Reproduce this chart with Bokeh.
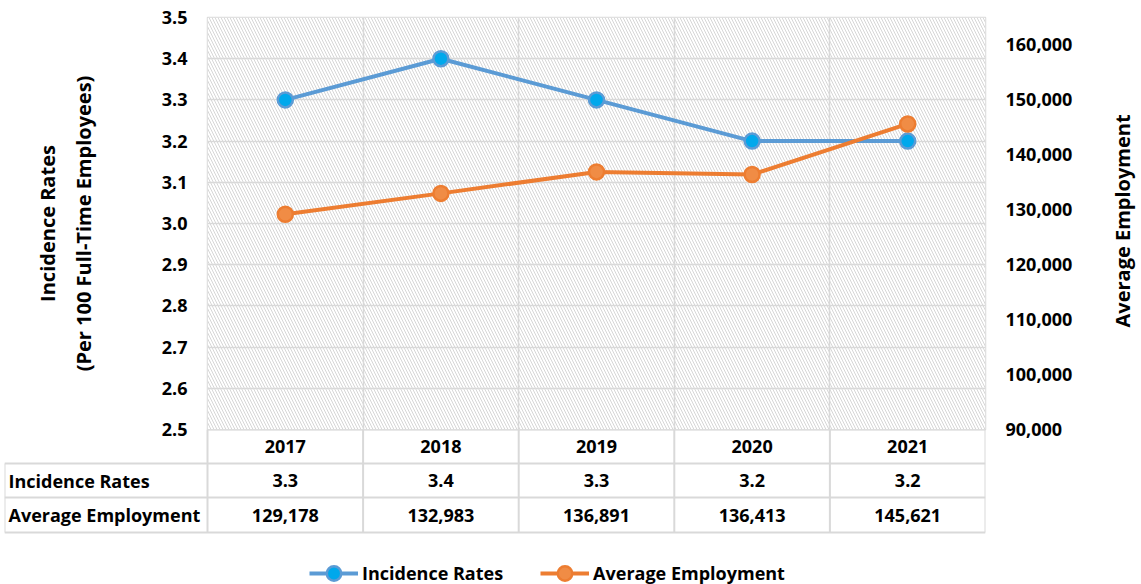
import math
from bokeh.plotting import figure
from bokeh.models import (Range1d, LinearAxis, FixedTicker, NumeralTickFormatter, Grid,
                          BoxAnnotation, ColumnDataSource, Legend, LegendItem, Title)
from bokeh.embed import file_html
from bokeh.resources import INLINE
from bokeh.core.properties import value

# ---------------- data ----------------
years = ["2017", "2018", "2019", "2020", "2021"]
incidence = [3.3, 3.4, 3.3, 3.2, 3.2]
employment = [129178, 132983, 136891, 136413, 145621]
row_labels = ["Incidence Rates", "Average Employment"]
left_ticks = [2.5, 2.6, 2.7, 2.8, 2.9, 3.0, 3.1, 3.2, 3.3, 3.4, 3.5]
right_ticks = [90000, 100000, 110000, 120000, 130000, 140000, 150000, 160000]
emp_min, emp_max = 90000, 165000

# ---------------- style ----------------
FONT = "Open Sans"
BLUE_LINE = "#5B9BD5"
BLUE_FILL = "#00A8EC"
ORANGE_LINE = "#ED7D31"
ORANGE_FILL = "#F08C45"
GRID = "#D9D9D9"
TXT = "#000000"
FS = "18px"
TFS = "20px"
LW = 4

FRAME_H = 412
n = len(years)
xpos = [i + 0.5 for i in range(n)]
src = ColumnDataSource(dict(x=xpos, inc=incidence, emp=employment))

# ---------------- chart ----------------
p = figure(x_range=Range1d(0, n), y_range=Range1d(2.5, 3.5),
           frame_width=778, frame_height=FRAME_H,
           min_border_left=207, min_border_right=156, min_border_top=17, min_border_bottom=12,
           x_axis_location=None, output_backend="svg", toolbar_location=None,
           outline_line_color=GRID, outline_line_width=1.5,
           styles={"position": "absolute", "left": "0px", "top": "0px"})
p.extra_y_ranges = {"emp": Range1d(emp_min, emp_max)}

p.add_layout(BoxAnnotation(fill_color="white", fill_alpha=1.0, hatch_pattern="\\",
                           hatch_color="#D6D6D6", hatch_scale=6, hatch_weight=1,
                           line_color=None, level="image"))

ya = p.yaxis[0]
ya.ticker = FixedTicker(ticks=left_ticks)
ya.formatter = NumeralTickFormatter(format="0.0")
ya.axis_line_color = None
ya.major_tick_out = 0
ya.major_tick_in = 0
ya.minor_tick_out = 0
ya.minor_tick_in = 0
ya.major_label_standoff = 20
ya.major_label_text_font = FONT
ya.major_label_text_font_style = "bold"
ya.major_label_text_font_size = FS
ya.major_label_text_color = TXT
ya.axis_label = "(Per 100 Full-Time Employees)"
ya.axis_label_standoff = 62
ya.axis_label_text_font = FONT
ya.axis_label_text_font_style = "bold"
ya.axis_label_text_font_size = TFS
ya.axis_label_text_color = TXT

p.add_layout(Title(text="Incidence Rates", align="center", standoff=12,
                   text_font=FONT, text_font_style="bold", text_font_size=TFS,
                   text_color=TXT), "left")

ra = LinearAxis(y_range_name="emp", ticker=FixedTicker(ticks=right_ticks),
                formatter=NumeralTickFormatter(format="0,0"),
                axis_line_color=None, major_tick_out=0, major_tick_in=0,
                minor_tick_out=0, minor_tick_in=0, major_label_standoff=20,
                major_label_text_font=FONT, major_label_text_font_style="bold",
                major_label_text_font_size=FS, major_label_text_color=TXT)
p.add_layout(ra, "right")

# right-hand axis title, read bottom-to-top; the rotated label starts at its tick,
# so the tick sits about half the text length below the wanted centre
title_y = round(emp_min + (emp_max - emp_min) * (0.5 - 104 / FRAME_H))
rt = LinearAxis(y_range_name="emp", ticker=FixedTicker(ticks=[title_y]),
                major_label_overrides={title_y: "Average Employment"},
                major_label_orientation=math.pi / 2,
                axis_line_color=None, major_tick_out=0, major_tick_in=0,
                minor_tick_out=0, minor_tick_in=0, major_label_standoff=47,
                major_label_text_font=FONT, major_label_text_font_style="bold",
                major_label_text_font_size=TFS, major_label_text_color=TXT)
p.add_layout(rt, "right")

p.ygrid.grid_line_color = GRID
p.ygrid.grid_line_width = 1.5
p.add_layout(Grid(dimension=0, ticker=FixedTicker(ticks=list(range(1, n))),
                  grid_line_color=GRID, grid_line_width=1.5))

p.line("x", "inc", source=src, line_color=BLUE_LINE, line_width=LW)
p.scatter("x", "inc", source=src, size=15, fill_color=BLUE_FILL,
          line_color=BLUE_LINE, line_width=2.5)
p.line("x", "emp", source=src, y_range_name="emp", line_color=ORANGE_LINE, line_width=LW)
p.scatter("x", "emp", source=src, y_range_name="emp", size=15, fill_color=ORANGE_FILL,
          line_color=ORANGE_LINE, line_width=2.5)

# ---------------- table + legend ----------------
cat_px = 778 / n
left_w = (207 - 4) / cat_px
row_edges = [0, 34, 68, 103]
t = figure(x_range=Range1d(-left_w, n), y_range=Range1d(155, 0),
           frame_width=981, frame_height=155,
           min_border_left=4, min_border_right=156, min_border_top=0, min_border_bottom=0,
           x_axis_type=None, y_axis_type=None, output_backend="svg",
           toolbar_location=None, outline_line_color=None,
           background_fill_alpha=0, border_fill_alpha=0,
           styles={"position": "absolute", "left": "0px", "top": "429px"})
t.grid.visible = False

xl = -left_w
# horizontal lines
t.segment(x0=[0, xl, xl, xl], x1=[n, n, n, n],
          y0=row_edges, y1=row_edges, line_color=GRID, line_width=2)
# vertical lines
t.segment(x0=list(range(n + 1)) + [xl], x1=list(range(n + 1)) + [xl],
          y0=[0] * (n + 1) + [row_edges[1]], y1=[row_edges[3]] * (n + 2),
          line_color=GRID, line_width=2)

def mid(i):
    return (row_edges[i] + row_edges[i + 1]) / 2

tab = ColumnDataSource(dict(
    x=xpos * 3,
    y=[mid(0)] * n + [mid(1)] * n + [mid(2)] * n,
    s=years + [f"{v:.1f}" for v in incidence] + [f"{v:,}" for v in employment]))
t.text("x", "y", "s", source=tab, text_align="center", text_baseline="middle",
       text_font=value(FONT), text_font_style="bold", text_font_size=FS, text_color=TXT)
t.text(x=[xl, xl], y=[mid(1), mid(2)], text=row_labels, x_offset=4,
       text_align="left", text_baseline="middle",
       text_font=value(FONT), text_font_style="bold", text_font_size=FS, text_color=TXT)

l1 = t.line(x=[math.nan], y=[math.nan], line_color=BLUE_LINE, line_width=LW)
s1 = t.scatter(x=[math.nan], y=[math.nan], size=15, fill_color=BLUE_FILL,
               line_color=BLUE_LINE, line_width=2.5)
l2 = t.line(x=[math.nan], y=[math.nan], line_color=ORANGE_LINE, line_width=LW)
s2 = t.scatter(x=[math.nan], y=[math.nan], size=15, fill_color=ORANGE_FILL,
               line_color=ORANGE_LINE, line_width=2.5)
leg = Legend(items=[LegendItem(label=row_labels[0], renderers=[l1, s1]),
                    LegendItem(label=row_labels[1], renderers=[l2, s2])],
             orientation="horizontal", location=(305, -7),
             glyph_width=49, glyph_height=36, label_standoff=4, spacing=37,
             padding=0, margin=0, border_line_color=None, background_fill_alpha=0,
             label_text_font=FONT, label_text_font_style="bold",
             label_text_font_size=FS, label_text_color=TXT)
t.add_layout(leg)

open("out.html", "w").write(file_html([p, t], INLINE))
